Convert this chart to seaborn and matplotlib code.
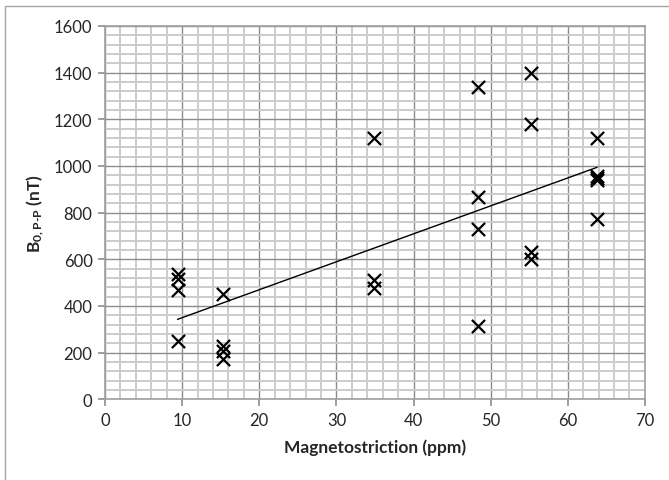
import numpy as np
import pandas as pd
import seaborn as sns
import matplotlib.pyplot as plt
from matplotlib.ticker import MultipleLocator
from matplotlib.patches import Rectangle

magnetostriction = [9.4, 9.4, 9.4, 9.4,
                    15.3, 15.3, 15.3, 15.3,
                    34.9, 34.9, 34.9,
                    48.3, 48.3, 48.3, 48.3,
                    55.2, 55.2, 55.2, 55.2,
                    63.8, 63.8, 63.8, 63.8, 63.8]
b0_pp = [537, 515, 470, 248,
         450, 228, 205, 172,
         1120, 510, 478,
         1340, 865, 730, 315,
         1400, 1180, 630, 600,
         1120, 958, 948, 940, 772]

df = pd.DataFrame({"ms": magnetostriction, "b0": b0_pp})

sns.set_style("white")
plt.rcParams['font.family'] = ['Lato', 'DejaVu Sans']
plt.rcParams['mathtext.fontset'] = 'custom'
plt.rcParams['mathtext.rm'] = 'Lato:bold'
plt.rcParams['mathtext.it'] = 'Lato:bold'
plt.rcParams['mathtext.bf'] = 'Lato:bold'

fig = plt.figure(figsize=(6.69, 4.81), dpi=100)
ax = fig.add_axes([0.157, 0.168, 0.807, 0.776])

# chart area border
fig.patches.append(Rectangle((5 / 669, -0.1), 1.2, 1 - 7 / 481 + 0.1, transform=fig.transFigure,
                             fill=False, edgecolor='#a6a6a6', linewidth=1.0))

sns.scatterplot(data=df, x="ms", y="b0", marker="x", color="black", s=90,
                linewidth=1.6, ax=ax, zorder=3, legend=False)

# linear trendline (least squares, like Excel)
k, c = np.polyfit(df["ms"], df["b0"], 1)
xs = np.array([df["ms"].min(), df["ms"].max()])
ax.plot(xs, k * xs + c, color="black", linewidth=1.0, zorder=2)

ax.set_xlim(0, 70)
ax.set_ylim(0, 1600)
ax.xaxis.set_major_locator(MultipleLocator(10))
ax.xaxis.set_minor_locator(MultipleLocator(2))
ax.yaxis.set_major_locator(MultipleLocator(200))
ax.yaxis.set_minor_locator(MultipleLocator(40))
ax.grid(which='major', color='#8c8c8c', linewidth=1.0)
ax.grid(which='minor', color='#cccccc', linewidth=1.4)
ax.set_axisbelow(True)

for sp in ax.spines.values():
    sp.set_color('#a0a0a0')
    sp.set_linewidth(1.2)

ax.tick_params(which='major', direction='out', length=5, color='#8c8c8c', width=1.2,
               labelsize=12, pad=4, bottom=True, left=True)
ax.tick_params(which='minor', length=0)

ax.set_xlabel("Magnetostriction (ppm)", fontsize=12.5, fontweight='bold', labelpad=8)
ax.set_ylabel(r"B$_{0,P\text{-}P}$ (nT)", fontsize=12.5, fontweight='bold', labelpad=6)

fig.savefig("out.png", dpi=100)
